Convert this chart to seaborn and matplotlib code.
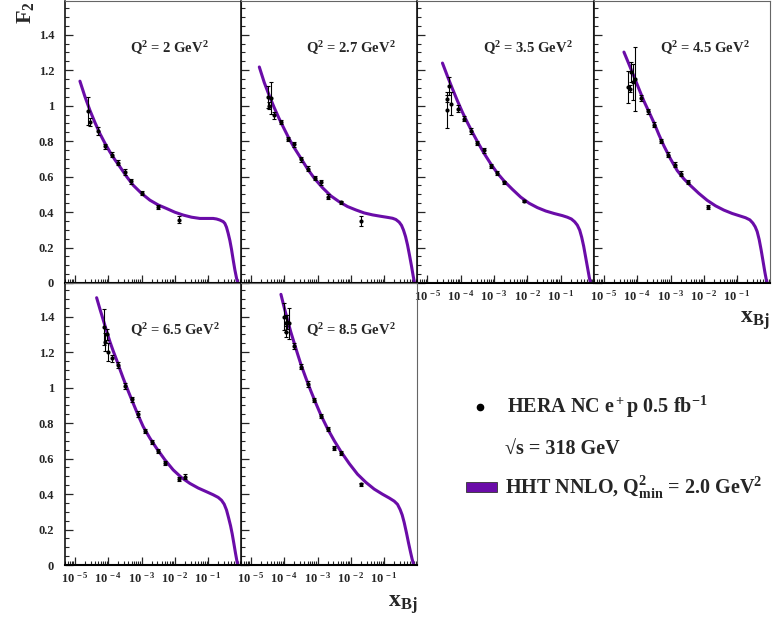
import numpy as np
import matplotlib
matplotlib.use("Agg")
import matplotlib.pyplot as plt
import seaborn as sns
from matplotlib.ticker import LogLocator, NullFormatter, FixedLocator, FuncFormatter, MultipleLocator
from matplotlib.lines import Line2D
from matplotlib.patches import Rectangle

# ---------------- data ----------------
q2_labels = ["2", "2.7", "3.5", "4.5", "6.5", "8.5"]

# HHT NNLO curves, one per Q^2 bin
curve_x_2 = [1.41e-5, 2.00e-5, 2.82e-5, 3.98e-5, 5.62e-5, 7.94e-5, 1.12e-4, 1.58e-4, 2.24e-4, 3.55e-4,
             5.62e-4, 1.00e-3, 1.78e-3, 3.16e-3, 5.62e-3, 1.00e-2, 1.78e-2, 3.16e-2, 5.62e-2, 0.100,
             0.141, 0.178, 0.224, 0.282, 0.316, 0.355, 0.398, 0.447, 0.501, 0.562, 0.631, 0.708, 0.776]
curve_f2_2 = [1.138, 1.050, 0.973, 0.905, 0.842, 0.788, 0.739, 0.695, 0.655, 0.600,
              0.551, 0.505, 0.467, 0.440, 0.420, 0.399, 0.383, 0.371, 0.364, 0.364,
              0.364, 0.361, 0.355, 0.346, 0.336, 0.314, 0.280, 0.240, 0.190, 0.131, 0.075, 0.028, 0.0]

curve_x_2p7 = [1.78e-5, 2.51e-5, 3.55e-5, 5.01e-5, 7.08e-5, 1.00e-4, 1.41e-4, 2.00e-4, 3.16e-4, 5.01e-4,
               7.94e-4, 1.41e-3, 2.51e-3, 4.47e-3, 7.94e-3, 1.41e-2, 2.51e-2, 4.47e-2, 7.94e-2, 0.126,
               0.178, 0.224, 0.282, 0.331, 0.380, 0.437, 0.501, 0.575, 0.661, 0.741, 0.813]
curve_f2_2p7 = [1.218, 1.130, 1.056, 0.988, 0.925, 0.868, 0.812, 0.762, 0.703, 0.643,
                0.591, 0.537, 0.491, 0.458, 0.431, 0.412, 0.395, 0.384, 0.376, 0.370,
                0.365, 0.358, 0.343, 0.325, 0.298, 0.262, 0.215, 0.157, 0.095, 0.040, 0.0]

curve_x_3p5 = [2.82e-5, 3.98e-5, 5.62e-5, 7.94e-5, 1.12e-4, 1.58e-4, 2.24e-4, 3.16e-4, 5.01e-4, 7.94e-4,
               1.26e-3, 2.00e-3, 3.55e-3, 6.31e-3, 1.12e-2, 2.00e-2, 3.55e-2, 6.31e-2, 0.112, 0.158,
               0.209, 0.263, 0.316, 0.372, 0.427, 0.490, 0.562, 0.646, 0.724, 0.794]
curve_f2_3p5 = [1.240, 1.166, 1.095, 1.027, 0.963, 0.905, 0.849, 0.797, 0.731, 0.672,
                0.619, 0.575, 0.528, 0.484, 0.450, 0.425, 0.406, 0.392, 0.380, 0.371,
                0.361, 0.345, 0.326, 0.298, 0.258, 0.207, 0.145, 0.082, 0.030, 0.0]

curve_x_4p5 = [3.98e-5, 5.62e-5, 7.94e-5, 1.12e-4, 1.58e-4, 2.24e-4, 3.16e-4, 4.47e-4, 6.31e-4, 1.00e-3,
               1.58e-3, 2.51e-3, 3.98e-3, 7.08e-3, 1.26e-2, 2.24e-2, 3.98e-2, 7.08e-2, 0.126, 0.178,
               0.240, 0.295, 0.347, 0.398, 0.457, 0.525, 0.603, 0.676, 0.741, 0.794]
curve_f2_4p5 = [1.302, 1.234, 1.165, 1.095, 1.026, 0.965, 0.904, 0.836, 0.773, 0.699,
                0.634, 0.587, 0.549, 0.505, 0.466, 0.435, 0.411, 0.392, 0.377, 0.368,
                0.356, 0.338, 0.317, 0.290, 0.245, 0.185, 0.118, 0.062, 0.022, 0.0]

curve_x_6p5 = [4.47e-5, 5.62e-5, 7.08e-5, 8.91e-5, 1.12e-4, 1.41e-4, 1.78e-4, 2.24e-4, 2.82e-4, 3.98e-4,
               5.62e-4, 7.94e-4, 1.12e-3, 1.78e-3, 2.82e-3, 5.01e-3, 8.91e-3, 1.58e-2, 2.82e-2, 5.01e-2,
               8.91e-2, 0.141, 0.200, 0.251, 0.302, 0.355, 0.407, 0.468, 0.525, 0.589, 0.661, 0.724, 0.776]
curve_f2_6p5 = [1.507, 1.443, 1.381, 1.319, 1.259, 1.206, 1.156, 1.103, 1.052, 0.980,
                0.911, 0.843, 0.780, 0.715, 0.658, 0.593, 0.536, 0.493, 0.460, 0.434,
                0.413, 0.396, 0.381, 0.365, 0.343, 0.310, 0.268, 0.222, 0.176, 0.122, 0.066, 0.025, 0.0]

curve_x_8p5 = [7.94e-5, 1.00e-4, 1.26e-4, 1.58e-4, 2.00e-4, 2.51e-4, 3.16e-4, 4.47e-4, 6.31e-4, 8.91e-4,
               1.26e-3, 2.00e-3, 3.16e-3, 5.01e-3, 8.91e-3, 1.58e-2, 2.82e-2, 5.01e-2, 8.91e-2, 0.141,
               0.200, 0.251, 0.302, 0.347, 0.398, 0.468, 0.537, 0.617, 0.692, 0.776]
curve_f2_8p5 = [1.526, 1.450, 1.380, 1.312, 1.250, 1.190, 1.131, 1.053, 0.980, 0.911,
                0.845, 0.768, 0.701, 0.640, 0.572, 0.512, 0.466, 0.428, 0.399, 0.378,
                0.360, 0.342, 0.312, 0.282, 0.240, 0.180, 0.125, 0.073, 0.032, 0.0]

# HERA NC e+p data points
data_x_2 = [2.40e-5, 2.82e-5, 5.01e-5, 7.94e-5, 1.26e-4, 2.00e-4, 3.16e-4, 4.79e-4, 1.00e-3, 3.16e-3, 1.32e-2]
data_f2_2 = [0.970, 0.908, 0.857, 0.771, 0.724, 0.679, 0.626, 0.574, 0.508, 0.429, 0.358]
data_err_2 = [0.080, 0.020, 0.020, 0.015, 0.012, 0.012, 0.015, 0.015, 0.012, 0.010, 0.020]

data_x_2p7 = [3.16e-5, 3.55e-5, 4.07e-5, 5.01e-5, 7.94e-5, 1.32e-4, 1.95e-4, 3.16e-4, 5.01e-4, 8.13e-4,
              1.29e-3, 2.00e-3, 5.01e-3, 2.00e-2]
data_f2_2p7 = [1.048, 1.000, 1.045, 0.945, 0.908, 0.814, 0.782, 0.698, 0.645, 0.593,
               0.567, 0.486, 0.454, 0.349]
data_err_2p7 = [0.060, 0.020, 0.090, 0.020, 0.012, 0.012, 0.015, 0.015, 0.015, 0.012,
                0.012, 0.015, 0.008, 0.030]

data_x_3p5 = [3.90e-5, 3.98e-5, 4.47e-5, 5.25e-5, 8.32e-5, 1.26e-4, 2.00e-4, 3.16e-4, 5.01e-4, 7.94e-4,
              1.26e-3, 2.00e-3, 7.94e-3]
data_f2_3p5 = [0.975, 1.040, 1.110, 1.010, 0.983, 0.927, 0.857, 0.790, 0.748, 0.660,
               0.621, 0.567, 0.461]
data_err_3p5 = [0.100, 0.020, 0.050, 0.065, 0.020, 0.015, 0.015, 0.012, 0.015, 0.012,
                0.012, 0.008, 0.006]

data_x_4p5 = [5.25e-5, 6.17e-5, 6.61e-5, 7.24e-5, 8.32e-5, 1.32e-4, 2.04e-4, 3.24e-4, 5.13e-4, 8.13e-4,
              1.32e-3, 2.04e-3, 3.24e-3, 1.29e-2]
data_f2_4p5 = [1.105, 1.096, 1.189, 1.133, 1.152, 1.043, 0.968, 0.893, 0.799, 0.724,
               0.668, 0.617, 0.570, 0.429]
data_err_4p5 = [0.090, 0.020, 0.055, 0.100, 0.180, 0.015, 0.015, 0.015, 0.012, 0.012,
                0.012, 0.012, 0.010, 0.012]

data_x_6p5 = [7.59e-5, 7.94e-5, 9.33e-5, 9.50e-5, 1.32e-4, 2.00e-4, 3.16e-4, 5.01e-4, 7.94e-4, 1.26e-3,
              2.00e-3, 3.16e-3, 5.01e-3, 1.32e-2, 2.00e-2]
data_f2_6p5 = [1.343, 1.259, 1.300, 1.202, 1.165, 1.127, 1.009, 0.934, 0.851, 0.757,
               0.695, 0.643, 0.577, 0.483, 0.498]
data_err_6p5 = [0.100, 0.050, 0.030, 0.050, 0.020, 0.015, 0.015, 0.015, 0.015, 0.012,
                0.012, 0.012, 0.012, 0.012, 0.015]

data_x_8p5 = [1.00e-4, 1.10e-4, 1.23e-4, 1.38e-4, 1.10e-4, 2.00e-4, 3.16e-4, 5.01e-4, 7.94e-4, 1.26e-3,
              2.00e-3, 3.16e-3, 5.01e-3, 2.00e-2]
data_f2_8p5 = [1.400, 1.362, 1.372, 1.362, 1.315, 1.234, 1.118, 1.020, 0.930, 0.842,
               0.767, 0.661, 0.633, 0.455]
data_err_8p5 = [0.075, 0.050, 0.040, 0.085, 0.030, 0.015, 0.015, 0.015, 0.012, 0.012,
                0.012, 0.010, 0.010, 0.010]

y_ticks = [0, 0.2, 0.4, 0.6, 0.8, 1.0, 1.2, 1.4]
x_ticks = [1e-5, 1e-4, 1e-3, 1e-2, 1e-1]
x_tick_labels = [r"$10^{\,-5}$", r"$10^{\,-4}$", r"$10^{\,-3}$", r"$10^{\,-2}$", r"$10^{\,-1}$"]

# ---------------- style ----------------
sns.set_style("white")
plt.rcParams.update({
    "font.family": ["Liberation Serif", "DejaVu Serif"],
    "font.weight": "bold",
    "mathtext.fontset": "custom",
    "mathtext.rm": "Liberation Serif:bold",
    "mathtext.it": "Liberation Serif:bold",
    "mathtext.bf": "Liberation Serif:bold",
    "mathtext.sf": "Liberation Serif:bold",
    "axes.linewidth": 1.0,
})

PURPLE = "#6a0ca8"
W, H = 774.0, 624.0

fig = plt.figure(figsize=(7.74, 6.24), dpi=100)
fig.patch.set_facecolor("white")

def rect(left_px, top_px, w_px, h_px):
    return [left_px / W, 1 - (top_px + h_px) / H, w_px / W, h_px / H]

panel_pos = [(64.5, 1), (240.5, 1), (417, 1), (593.5, 1), (64.5, 283), (240.5, 283)]
curves = [(curve_x_2, curve_f2_2), (curve_x_2p7, curve_f2_2p7), (curve_x_3p5, curve_f2_3p5),
          (curve_x_4p5, curve_f2_4p5), (curve_x_6p5, curve_f2_6p5), (curve_x_8p5, curve_f2_8p5)]
datas = [(data_x_2, data_f2_2, data_err_2), (data_x_2p7, data_f2_2p7, data_err_2p7),
         (data_x_3p5, data_f2_3p5, data_err_3p5), (data_x_4p5, data_f2_4p5, data_err_4p5),
         (data_x_6p5, data_f2_6p5, data_err_6p5), (data_x_8p5, data_f2_8p5, data_err_8p5)]
show_ylabels = [True, False, False, False, True, False]
show_xlabels = [False, False, True, True, True, True]

for i, (lp, tp) in enumerate(panel_pos):
    ax = fig.add_axes(rect(lp, tp, 176, 282))
    ax.set_facecolor("none")
    ax.set_xscale("log")
    cx, cy = curves[i]
    sns.lineplot(x=cx, y=cy, ax=ax, color=PURPLE, linewidth=2.2, sort=False,
                 estimator=None, zorder=2)
    dx, dy, de = datas[i]
    ax.errorbar(dx, dy, yerr=de, fmt="none", ecolor="black", elinewidth=0.8,
                capsize=1.6, capthick=0.8, zorder=3)
    sns.scatterplot(x=dx, y=dy, ax=ax, color="black", s=9, linewidth=0, zorder=4)

    ax.set_xlim(4.85e-6, 0.933)
    ax.set_ylim(0, 1.59)
    ax.set_xlabel("")
    ax.set_ylabel("")

    ax.xaxis.set_major_locator(FixedLocator(x_ticks))
    ax.xaxis.set_minor_locator(LogLocator(base=10, subs=np.arange(2, 10), numticks=20))
    ax.xaxis.set_minor_formatter(NullFormatter())
    ax.set_xticks(x_ticks)
    ax.set_xticklabels(x_tick_labels)
    ax.yaxis.set_major_locator(FixedLocator(y_ticks))
    ax.yaxis.set_minor_locator(MultipleLocator(0.05))
    ax.yaxis.set_major_formatter(FuncFormatter(lambda v, p: "%g" % v))

    ax.tick_params(axis="y", which="major", direction="in", length=5.8, width=0.9,
                   left=True, right=False, labelleft=show_ylabels[i], labelsize=9, pad=7.5)
    ax.tick_params(axis="y", which="minor", direction="in", length=2.9, width=0.8,
                   left=True, right=False)
    ax.tick_params(axis="x", which="major", direction="in", length=5.5, width=0.9,
                   bottom=True, top=False, labelbottom=show_xlabels[i], labelsize=9, pad=4.5)
    ax.tick_params(axis="x", which="minor", direction="in", length=2.9, width=0.8,
                   bottom=True, top=False)
    for lab in ax.get_xticklabels() + ax.get_yticklabels():
        lab.set_fontweight("bold")

    ax.spines["left"].set_color("black")
    ax.spines["left"].set_linewidth(1.1)
    ax.spines["bottom"].set_color("black")
    ax.spines["bottom"].set_linewidth(1.5)
    for s in ("top", "right"):
        ax.spines[s].set_color("#666666")
        ax.spines[s].set_linewidth(0.8)

    ax.text(0.375, 0.815, "Q$^2$ = %s GeV$^2$" % q2_labels[i], transform=ax.transAxes,
            ha="left", va="baseline", fontsize=10.5, fontweight="bold")

# axis titles
fig.text(25 / W, 1 - 13 / H, r"F$_2$", rotation=90, ha="center", va="center",
         fontsize=16, fontweight="bold")
fig.text(770 / W, 1 - 323 / H, r"x$_{\mathrm{Bj}}$", ha="right", va="baseline",
         fontsize=17, fontweight="bold")
fig.text(418 / W, 1 - 607 / H, r"x$_{\mathrm{Bj}}$", ha="right", va="baseline",
         fontsize=17, fontweight="bold")

# legend
fig.add_artist(Line2D([480 / W], [1 - 407 / H], marker="o", markersize=4.5,
                      color="black", linestyle="none", transform=fig.transFigure))
fig.text(507 / W, 1 - 413 / H, r"HERA NC e$^+$p 0.5 fb$^{-1}$", ha="left", va="baseline",
         fontsize=14.5, fontweight="bold")
fig.text(505 / W, 1 - 455 / H, "\u221As = 318 GeV", ha="left", va="baseline",
         fontsize=14.5, fontweight="bold")
fig.add_artist(Rectangle((466 / W, 1 - 492 / H), 31 / W, 10 / H, transform=fig.transFigure,
                         facecolor=PURPLE, edgecolor="#333333", linewidth=0.6))
fig.text(505 / W, 1 - 494 / H, r"HHT NNLO, Q$^2_{\mathrm{min}}$ = 2.0 GeV$^2$", ha="left",
         va="baseline", fontsize=14.5, fontweight="bold")

fig.savefig("out.png", dpi=100, facecolor="white")
